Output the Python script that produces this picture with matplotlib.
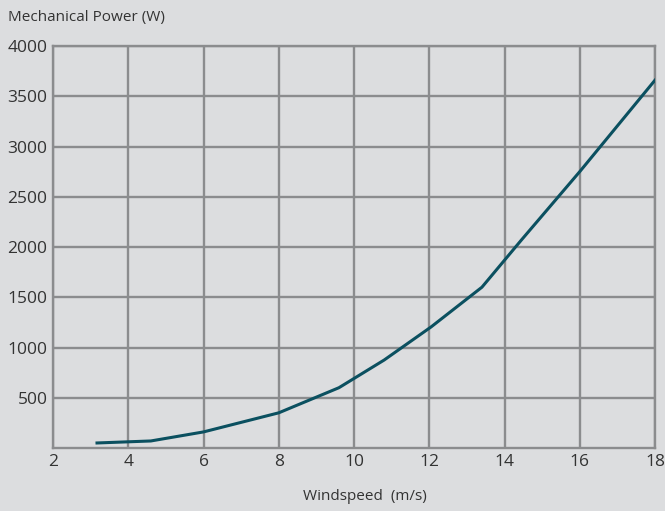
import matplotlib.pyplot as plt

# data
windspeed = [3.17, 4.6, 6.0, 8.0, 9.6, 10.8, 12.05, 13.4, 14.45, 16.0, 18.0]
power = [50, 70, 160, 350, 600, 875, 1205, 1600, 2070, 2750, 3660]
x_ticks = [2, 4, 6, 8, 10, 12, 14, 16, 18]
y_ticks = [500, 1000, 1500, 2000, 2500, 3000, 3500, 4000]

bg = '#dcdddf'
grid_col = '#8b8c8e'
text_col = '#333333'

plt.rcParams['font.family'] = ['Open Sans', 'DejaVu Sans']

fig = plt.figure(figsize=(6.65, 5.11), dpi=100, facecolor=bg)
ax = fig.add_axes([53 / 665, 1 - 448 / 511, 602 / 665, 402 / 511])
ax.set_facecolor(bg)

ax.plot(windspeed, power, color='#0b5060', linewidth=2.2, zorder=3)

ax.set_xlim(2, 18)
ax.set_ylim(0, 4000)
ax.set_xticks(x_ticks)
ax.set_yticks(y_ticks)
ax.grid(True, color=grid_col, linewidth=1.7)
ax.tick_params(length=0, pad=4, labelsize=12.5, colors=text_col)
for s in ax.spines.values():
    s.set_color(grid_col)
    s.set_linewidth(1.7)

fig.text(8 / 665, 1 - 18 / 511, 'Mechanical Power (W)', fontsize=11, color=text_col,
         ha='left', va='center')
fig.text(365 / 665, 1 - 496 / 511, 'Windspeed  (m/s)', fontsize=11, color=text_col,
         ha='center', va='center')

fig.savefig('out.png', dpi=100, facecolor=bg)
plt.close()
